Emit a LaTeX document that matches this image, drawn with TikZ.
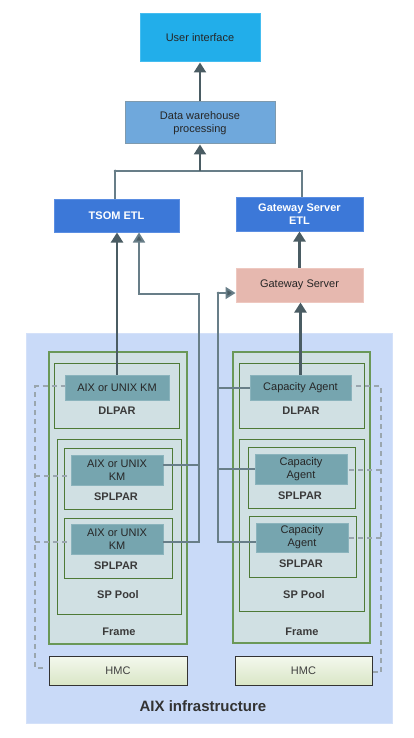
\documentclass[tikz,border=0pt]{standalone}
\usepackage{fontspec}
\setmainfont{Liberation Sans}
\usetikzlibrary{arrows.meta,positioning}
\definecolor{uiblue}{HTML}{22AEEA}
\definecolor{uiborder}{HTML}{45BDF0}
\definecolor{dwblue}{HTML}{6FA8DC}
\definecolor{dwborder}{HTML}{7E9AAE}
\definecolor{etlblue}{HTML}{3C78D8}
\definecolor{etlborder}{HTML}{5B8EE2}
\definecolor{gspink}{HTML}{E6B8AF}
\definecolor{gsborder}{HTML}{EEC8C0}
\definecolor{aixbg}{HTML}{C9DAF8}
\definecolor{framefill}{HTML}{D0E0E3}
\definecolor{frameborder}{HTML}{6A9858}
\definecolor{innerborder}{HTML}{4E7A36}
\definecolor{kmfill}{HTML}{76A5AF}
\definecolor{kmborder}{HTML}{8AB3BC}
\definecolor{arrowcol}{HTML}{4A5C63}
\definecolor{buscol}{HTML}{687E88}
\definecolor{dashcol}{HTML}{9AA6AE}
\definecolor{labelcol}{HTML}{3A3A3A}
\definecolor{hmctop}{HTML}{F4F8EE}
\definecolor{hmcbot}{HTML}{D9E6C6}
\tikzset{
  box/.style={rectangle, inner sep=0pt, align=center, font=\fontsize{11}{13}\selectfont},
  uibox/.style={box, fill=uiblue, draw=uiborder, line width=1pt, text=black!85},
  dwbox/.style={box, fill=dwblue, draw=dwborder, line width=1pt, text=black!85},
  etlbox/.style={box, fill=etlblue, draw=etlborder, line width=1pt, text=white, font=\fontsize{11}{13}\selectfont\bfseries},
  gsbox/.style={box, fill=gspink, draw=gsborder, line width=1pt, text=black!85},
  framebox/.style={box, fill=framefill, draw=frameborder, line width=1.2pt},
  innerbox/.style={box, fill=framefill, draw=innerborder, line width=1pt},
  kmbox/.style={box, fill=kmfill, draw=kmborder, line width=0.6pt, text=black!85},
  lbl/.style={box, text=labelcol, font=\fontsize{11}{13}\selectfont\bfseries},
  hmcbox/.style={box, top color=hmctop, bottom color=hmcbot, draw=black!80, line width=1pt, text=black!75},
  arr/.style={draw=arrowcol, line width=2.2pt, -{Triangle[width=12pt,length=10pt]}},
  bus/.style={draw=buscol, line width=1.8pt},
  busarr/.style={draw=buscol, line width=1.8pt, -{Triangle[width=12pt,length=10pt,fill=arrowcol]}},
  lightline/.style={draw=buscol, line width=1.6pt},
  hmcdash/.style={draw=dashcol, line width=1.3pt, dash pattern=on 5pt off 4pt}
}
\begin{document}
\begin{tikzpicture}[x=1pt,y=-1pt]
\useasboundingbox (0,0) rectangle (414,738);

% top boxes
\node[uibox, minimum width=120pt, minimum height=48pt] (ui) at (200,38) {User interface};
\node[dwbox, minimum width=150pt, minimum height=42pt] (dw) at (200,123) {Data warehouse\\processing};
\node[etlbox, minimum width=125pt, minimum height=33pt] (tsom) at (116.5,215.5) {TSOM ETL};
\node[etlbox, minimum width=127pt, minimum height=34pt] (gsetl) at (299.5,214) {Gateway Server\\ETL};
\node[gsbox, minimum width=127pt, minimum height=34pt] (gs) at (299.5,285) {Gateway Server};

% AIX background
\node[box, fill=aixbg, draw=aixbg!80!white, minimum width=366pt, minimum height=390pt] (aix) at (209,528) {};
\node[box, font=\fontsize{15}{16}\selectfont\bfseries, text=black!80] (aixlbl) at (203,706) {AIX infrastructure};

% left frame
\node[framebox, minimum width=138pt, minimum height=292pt] (frameL) at (118,498) {};
\node[innerbox, minimum width=125pt, minimum height=65pt] (dlparL) at (116.5,395.5) {};
\node[kmbox, minimum width=104pt, minimum height=25pt] (kmL0) at (117,387.5) {AIX or UNIX KM};
\node[lbl] (dlparLl) at (117,411) {DLPAR};
\node[innerbox, minimum width=124pt, minimum height=175pt] (spL) at (119,526.5) {};
\node[innerbox, minimum width=108pt, minimum height=61pt] (splL1) at (118,478.5) {};
\node[kmbox, minimum width=92pt, minimum height=30pt] (kmL1) at (117,470) {AIX or UNIX\\KM};
\node[lbl] (splL1l) at (116,497) {SPLPAR};
\node[innerbox, minimum width=108pt, minimum height=60pt] (splL2) at (118,548) {};
\node[kmbox, minimum width=92pt, minimum height=30pt] (kmL2) at (117,539) {AIX or UNIX\\KM};
\node[lbl] (splL2l) at (116,566) {SPLPAR};
\node[lbl] (spLl) at (118,595) {SP Pool};
\node[lbl] (frameLl) at (119,632) {Frame};
\node[hmcbox, minimum width=138pt, minimum height=29pt] (hmcL) at (118,670.5) {HMC};

% right frame
\node[framebox, minimum width=137pt, minimum height=291pt] (frameR) at (301.5,497.5) {};
\node[innerbox, minimum width=125pt, minimum height=65pt] (dlparR) at (301.5,395.5) {};
\node[kmbox, minimum width=101pt, minimum height=25pt] (ca0) at (300.5,387.5) {Capacity Agent};
\node[lbl] (dlparRl) at (301,411) {DLPAR};
\node[innerbox, minimum width=125pt, minimum height=172pt] (spR) at (301.5,525) {};
\node[innerbox, minimum width=107pt, minimum height=61pt] (splR1) at (301.5,477.5) {};
\node[kmbox, minimum width=92pt, minimum height=30pt] (ca1) at (301,469) {Capacity\\Agent};
\node[lbl] (splR1l) at (300,496) {SPLPAR};
\node[innerbox, minimum width=107pt, minimum height=61pt] (splR2) at (302.5,546.5) {};
\node[kmbox, minimum width=92pt, minimum height=29pt] (ca2) at (302,537.5) {Capacity\\Agent};
\node[lbl] (splR2l) at (301,564) {SPLPAR};
\node[lbl] (spRl) at (304,595) {SP Pool};
\node[lbl] (frameRl) at (302,632) {Frame};
\node[hmcbox, minimum width=137pt, minimum height=29pt] (hmcR) at (303.5,670.5) {HMC};

% top connectors
\coordinate (jc) at (200,171);
\coordinate (jl) at (115,171);
\coordinate (jr) at (302,171);
\draw[lightline] (tsom.north -| jl) -- (jl) -- (jr) -- (gsetl.north -| jr);
\fill[buscol] (jl) circle (1.5pt);
\draw[arr] (jc) -- (dw.south);
\draw[arr] (dw.north) -- (ui.south);
\draw[arr] (gs.north) -- (gsetl.south);

% left bus to TSOM ETL
\coordinate (bl1) at (199,465);
\coordinate (bl2) at (199,542);
\coordinate (blt) at (199,294);
\coordinate (tl) at (139,294);
\draw[bus] (kmL1.east |- bl1) -- (bl1);
\draw[busarr] (kmL2.east |- bl2) -- (bl2) -- (blt) -- (tl) -- (tl |- tsom.south);

% right bus to Gateway Server
\coordinate (br0) at (218,388);
\coordinate (br1) at (218,469);
\coordinate (br2) at (218,542);
\coordinate (brt) at (218,293);
\draw[bus] (ca0.west |- br0) -- (br0);
\draw[bus] (ca1.west |- br1) -- (br1);
\draw[busarr] (ca2.west |- br2) -- (br2) -- (brt) -- (brt -| gs.west);
\fill[buscol] (brt) circle (1.5pt);

% main vertical arrows
\draw[arr] (kmL0.north) -- (kmL0.north |- tsom.south);
\draw[arr] (ca0.north) -- (ca0.north |- gs.south);

% HMC dashed links left
\coordinate (dl0) at (35,386);
\coordinate (dl1) at (35,476);
\coordinate (dl2) at (35,542);
\coordinate (dlb) at (35,668);
\draw[hmcdash] (hmcL.west |- dlb) ++(-6,0) -- (dlb) -- (dl0) -- (dl0 -| kmL0.west);
\draw[hmcdash] (dl1) -- (dl1 -| kmL1.west);
\draw[hmcdash] (dl2) -- (dl2 -| kmL2.west);

% HMC dashed links right
\coordinate (dr0) at (381,386);
\coordinate (dr1) at (381,470);
\coordinate (dr2) at (381,538);
\coordinate (drb) at (381,672);
\draw[hmcdash] (hmcR.east |- drb) -- (drb) -- (dr0) -- (dr0 -| ca0.east);
\draw[hmcdash] (dr1) -- (dr1 -| ca1.east);
\draw[hmcdash] (dr2) -- (dr2 -| ca2.east);
\end{tikzpicture}
\end{document}
